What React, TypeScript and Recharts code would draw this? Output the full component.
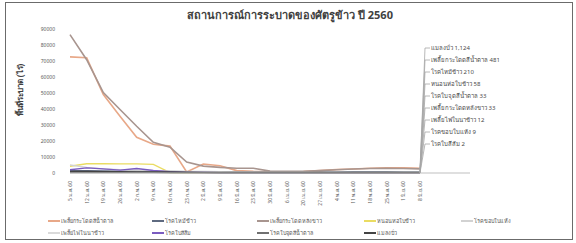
import React from "react";
import { ComposedChart, Line, XAxis, YAxis, LabelList } from "recharts";

const dates = [
  "5 ม.ค. 60", "12 ม.ค. 60", "19 ม.ค. 60", "26 ม.ค. 60", "2 ก.พ. 60", "9 ก.พ. 60",
  "16 ก.พ. 60", "23 ก.พ. 60", "2 มี.ค. 60", "9 มี.ค. 60", "16 มี.ค. 60", "23 มี.ค. 60",
  "30 มี.ค. 60", "6 เม.ย. 60", "20 เม.ย. 60", "27 เม.ย. 60", "4 พ.ค. 60", "11 พ.ค. 60",
  "18 พ.ค. 60", "25 พ.ค. 60", "1 มิ.ย. 60", "8 มิ.ย. 60", "", "", "",
];

const bph = [72600, 72000, 49000, 35400, 22300, 18000, 16800, 600, 5600, 4500, 1500, 1000, 800, 700, 900, 1500, 2200, 2500, 3000, 3300, 3200, 3000];
const blast = [1500, 1400, 1300, 1200, 1100, 1000, 900, 800, 700, 600, 500, 500, 400, 400, 400, 500, 500, 600, 600, 600, 500, 500];
const wbph = [86500, 70800, 50300, 39700, 29200, 19200, 16100, 6800, 4300, 3500, 3000, 3000, 1200, 1000, 1000, 1500, 2000, 2500, 2800, 3000, 2800, 2600];
const leafFolder = [4200, 5800, 5800, 5700, 5700, 5400, 300, 200, 150, 100, 100, 100, 100, 100, 100, 100, 100, 100, 100, 100, 100, 100];
const blight = [5000, 3500, 2500, 2000, 1800, 1500, 1200, 1000, 900, 800, 700, 600, 500, 500, 500, 400, 400, 400, 300, 300, 300, 300];
const thrips = [600, 600, 500, 500, 500, 400, 400, 300, 300, 300, 200, 200, 200, 200, 200, 200, 200, 200, 200, 200, 200, 200];
const orangeLeaf = [2000, 3200, 2600, 1800, 2800, 1600, 800, 400, 300, 200, 100, 100, 100, 100, 100, 100, 100, 100, 100, 100, 100, 100];
const brownSpot = [300, 300, 300, 300, 300, 300, 200, 200, 200, 200, 200, 200, 200, 200, 200, 200, 200, 200, 200, 200, 200, 200];
const gallMidge = [900, 900, 800, 800, 700, 700, 600, 500, 400, 300, 300, 300, 300, 300, 300, 300, 300, 300, 300, 300, 300, 300];

const seriesKeys = ["bph", "blast", "wbph", "leafFolder", "blight", "thrips", "orangeLeaf", "brownSpot", "gallMidge"];
const seriesValues = [bph, blast, wbph, leafFolder, blight, thrips, orangeLeaf, brownSpot, gallMidge];
const seriesNames = [
  "เพลี้ยกระโดดสีน้ำตาล", "โรคไหม้ข้าว", "เพลี้ยกระโดดหลังขาว", "หนอนห่อใบข้าว", "โรคขอบใบแห้ง",
  "เพลี้ยไฟในนาข้าว", "โรคใบสีส้ม", "โรคใบจุดสีน้ำตาล", "แมลงบั่ว",
];
const seriesColors = ["#E8A888", "#5E6A80", "#A8958F", "#EADC62", "#D2D2D2", "#DADADA", "#7A5CC0", "#707070", "#444444"];

const yTicks = [0, 10000, 20000, 30000, 40000, 50000, 60000, 70000, 80000, 90000];

const endLabelSeries = ["gallMidge", "bph", "blast", "leafFolder", "brownSpot", "wbph", "thrips", "blight", "orangeLeaf"];
const endLabelText = [
  "แมลงบั่ว 1,124", "เพลี้ยกระโดดสีน้ำตาล 481", "โรคไหม้ข้าว 210", "หนอนห่อใบข้าว 58",
  "โรคใบจุดสีน้ำตาล 33", "เพลี้ยกระโดดหลังขาว 33", "เพลี้ยไฟในนาข้าว 12", "โรคขอบใบแห้ง 9", "โรคใบสีส้ม 2",
];

const title = "สถานการณ์การระบาดของศัตรูข้าว ปี 2560";
const yLabel = "พื้นที่ระบาด (ไร่)";

const FONT = "'Noto Sans', 'DejaVu Sans', sans-serif";
const lastIndex = bph.length - 1;

const data = dates.map((d, i) => {
  const row: Record<string, any> = { date: d };
  seriesKeys.forEach((k, s) => {
    row[k] = i < seriesValues[s].length ? seriesValues[s][i] : null;
  });
  return row;
});

const DateTick = (props: any) => {
  const { x, y, payload } = props;
  if (!payload || !payload.value) return null;
  return (
    <text
      x={x}
      y={y}
      transform={`rotate(-90, ${x}, ${y})`}
      textAnchor="end"
      dominantBaseline="central"
      fontSize={5}
      fill="#595959"
      fontFamily={FONT}
    >
      {payload.value}
    </text>
  );
};

const makeEndLabel = (key: string) => (props: any) => {
  const { x, y, index } = props;
  const li = endLabelSeries.indexOf(key);
  if (index !== lastIndex || li < 0 || x == null || y == null) return null;
  const ly = 48 + li * 12;
  return (
    <g>
      <polyline
        points={`${x},${y} ${425},${ly} ${430},${ly}`}
        fill="none"
        stroke="#A6A6A6"
        strokeWidth={0.8}
      />
      <text x={431} y={ly} dominantBaseline="central" fontSize={6} fill="#4a4a4a" fontFamily={FONT}>
        {endLabelText[li]}
      </text>
    </g>
  );
};

const YLabelContent = () => (
  <text
    x={19}
    y={90}
    transform="rotate(-90, 19, 90)"
    textAnchor="middle"
    dominantBaseline="central"
    fontSize={8}
    fontWeight="bold"
    fill="#404040"
    fontFamily={FONT}
  >
    {yLabel}
  </text>
);

const legendCols = [48, 152, 257, 364, 461];
const legendRows = [221, 233];

export default function App() {
  return (
    <div style={{ position: "absolute", left: 0, top: 0, width: 576, height: 243, background: "#fff", fontFamily: FONT }}>
      <div
        style={{
          position: "absolute",
          left: 5,
          top: 2,
          width: 566,
          height: 236,
          border: "1px solid #6b6b6b",
        }}
      />
      <div
        style={{
          position: "absolute",
          left: 0,
          top: 8,
          width: 580,
          textAlign: "center",
          fontSize: 11,
          fontWeight: "bold",
          color: "#404040",
          lineHeight: "14px",
        }}
      >
        {title}
      </div>
      <div style={{ position: "absolute", left: 0, top: 0 }}>
        <ComposedChart
          width={576}
          height={243}
          data={data}
          margin={{ top: 29, right: 106, bottom: 40, left: 10 }}
        >
          <XAxis
            dataKey="date"
            interval={0}
            tickLine={false}
            axisLine={{ stroke: "#BFBFBF" }}
            height={30}
            tick={<DateTick />}
            tickMargin={2}
          />
          <YAxis
            width={60}
            domain={[0, 90000]}
            ticks={yTicks}
            axisLine={false}
            tickLine={false}
            tickSize={0}
            tickMargin={15}
            tick={{ fontSize: 5, fill: "#595959", fontFamily: FONT }}
            label={<YLabelContent />}
          />
          {seriesKeys.map((k, s) => (
            <Line
              key={k}
              dataKey={k}
              name={seriesNames[s]}
              stroke={seriesColors[s]}
              strokeWidth={s === 0 || s === 2 ? 1.6 : 1.4}
              dot={false}
              isAnimationActive={false}
            >
              <LabelList dataKey={k} content={makeEndLabel(k)} />
            </Line>
          ))}
        </ComposedChart>
      </div>
      {seriesNames.map((n, s) => {
        const col = s < 5 ? s : s - 5;
        const row = s < 5 ? 0 : 1;
        return (
          <div
            key={n}
            style={{
              position: "absolute",
              left: legendCols[col],
              top: legendRows[row] - 5,
              height: 10,
              display: "flex",
              alignItems: "center",
              fontSize: 5.5,
              color: "#595959",
              whiteSpace: "nowrap",
            }}
          >
            <span style={{ display: "inline-block", width: 12, height: 1.5, background: seriesColors[s], marginRight: 1 }} />
            {n}
          </div>
        );
      })}
    </div>
  );
}
